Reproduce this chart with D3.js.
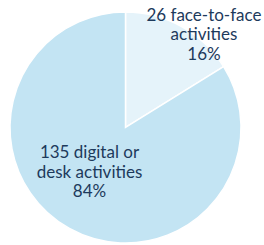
<!DOCTYPE html>
<html>
<head>
<meta charset="utf-8">
<script src="https://cdn.jsdelivr.net/npm/d3@7"></script>
<style>
  body { margin: 0; background: #fff; }
  text { font-family: Lato, "Open Sans", sans-serif; fill: #1d3a5c; }
</style>
</head>
<body>
<svg width="264" height="245"></svg>
<script>
var categories = ["face-to-face activities", "digital or desk activities"];
var counts = [26, 135];
var percents = ["16%", "84%"];
var labelLines = [
    ["26 face-to-face", "activities", "16%"],
    ["135 digital or", "desk activities", "84%"]
];
var colors = ["#e5f3fa", "#c3e4f3"];

var svg = d3.select("svg"),
    width = +svg.attr("width"),
    height = +svg.attr("height");

var cx = 125.5, cy = 127.5, radius = 115.5;

var pie = d3.pie().sort(null).value(function (d) { return d; });
var arc = d3.arc().innerRadius(0).outerRadius(radius);

var g = svg.append("g").attr("transform", "translate(" + cx + "," + cy + ")");

var arcs = pie(counts);

g.selectAll("path")
    .data(arcs)
    .enter().append("path")
    .attr("d", arc)
    .attr("fill", function (d, i) { return colors[i]; })
    .attr("stroke", "#fff")
    .attr("stroke-width", 1.5);

// label anchor: arc centroid at a given radius, then nudged
var labelRadius = [220, 140];
var labelShift = [[25, 3], [-2, -17]];

var lineH = 19.8;
var labels = g.selectAll("text.lbl")
    .data(arcs)
    .enter().append("text")
    .attr("class", "lbl")
    .attr("text-anchor", "middle")
    .style("font-size", "17px")
    .attr("transform", function (d, i) {
        var c = d3.arc().innerRadius(0).outerRadius(labelRadius[i]).centroid(d);
        return "translate(" + (c[0] + labelShift[i][0]) + "," + (c[1] + labelShift[i][1]) + ")";
    });

labels.each(function (d, i) {
    var t = d3.select(this);
    labelLines[i].forEach(function (line, k) {
        t.append("tspan")
            .attr("x", 0)
            .attr("y", (k - 1) * lineH + 6)
            .text(line);
    });
});
</script>
</body>
</html>
